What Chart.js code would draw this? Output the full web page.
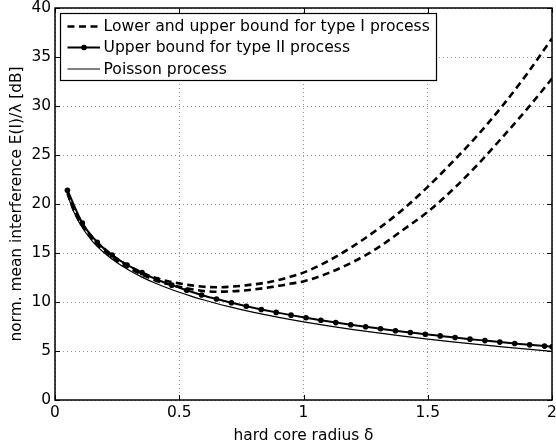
<!DOCTYPE html>
<html>
<head>
<meta charset="utf-8">
<script src="https://cdn.jsdelivr.net/npm/chart.js@4.4.1/dist/chart.umd.min.js"></script>
<style>
  html, body { margin: 0; padding: 0; background: #fff; }
  #wrap { width: 556px; height: 447px; }
</style>
</head>
<body>
<div id="wrap"><canvas id="chart" width="556" height="447"></canvas></div>
<script>
// x positions of the smooth curves (hard core radius)
const curveDelta = [0.05, 0.075, 0.1, 0.15, 0.2, 0.25, 0.3, 0.35, 0.4, 0.45, 0.5, 0.55, 0.6, 0.65, 0.7,
  0.75, 0.8, 0.85, 0.9, 0.95, 1.0, 1.1, 1.2, 1.3, 1.4, 1.5, 1.6, 1.7, 1.8, 1.9, 2.0];
const typeIUpper = [21.3, 19.6, 18.4, 16.6, 15.4, 14.4, 13.65, 13.0, 12.5, 12.15, 11.9, 11.7, 11.55, 11.5, 11.55,
  11.65, 11.8, 11.98, 12.25, 12.6, 13.0, 14.2, 15.7, 17.45, 19.45, 21.75, 24.3, 27.0, 30.0, 33.3, 36.9];
const typeILower = [21.1, 19.4, 18.2, 16.4, 15.2, 14.2, 13.45, 12.8, 12.25, 11.85, 11.55, 11.3, 11.12, 11.05, 11.08,
  11.15, 11.28, 11.45, 11.65, 11.88, 12.1, 12.95, 14.1, 15.55, 17.35, 19.2, 21.45, 24.0, 26.8, 29.7, 32.8];
const poisson = [20.99, 19.23, 17.98, 16.22, 14.97, 14.0, 13.21, 12.54, 11.96, 11.45, 10.99, 10.58, 10.2, 9.85, 9.53,
  9.23, 8.95, 8.69, 8.44, 8.2, 7.98, 7.57, 7.19, 6.84, 6.52, 6.22, 5.94, 5.68, 5.43, 5.19, 4.97];

// marker positions of the type II curve
const markerDelta = [0.05, 0.11, 0.17, 0.23, 0.29, 0.35, 0.41, 0.47, 0.53, 0.59, 0.65, 0.71, 0.77, 0.83, 0.89,
  0.95, 1.01, 1.07, 1.13, 1.19, 1.25, 1.31, 1.37, 1.43, 1.49, 1.55, 1.61, 1.67, 1.73, 1.79, 1.85, 1.91, 1.97, 2.0];
const typeIIUpper = [21.4, 18.05, 16.1, 14.8, 13.78, 13.0, 12.3, 11.72, 11.2, 10.72, 10.3, 9.92, 9.57, 9.24, 8.94,
  8.66, 8.39, 8.14, 7.9, 7.68, 7.47, 7.27, 7.07, 6.89, 6.71, 6.54, 6.37, 6.21, 6.06, 5.91, 5.77, 5.63, 5.5, 5.44];

const xTicks = [0, 0.5, 1, 1.5, 2];
const yTicks = [0, 5, 10, 15, 20, 25, 30, 35, 40];

const legendLabels = [
  'Lower and upper bound for type I process',
  'Upper bound for type II process',
  'Poisson process'
];

const FONT = 'DejaVu Sans';

function pts(xs, ys) {
  return xs.map((x, i) => ({ x: x, y: ys[i] }));
}

// box, inward ticks and legend, drawn the MATLAB way
const matlabFrame = {
  id: 'matlabFrame',
  afterDraw(chart) {
    const ctx = chart.ctx;
    const a = chart.chartArea;
    const xs = chart.scales.x, ys = chart.scales.y;
    ctx.save();
    ctx.strokeStyle = '#000';
    ctx.lineWidth = 1;
    ctx.beginPath();
    xTicks.forEach(v => {
      const px = Math.round(xs.getPixelForValue(v)) + 0.5;
      ctx.moveTo(px, a.bottom); ctx.lineTo(px, a.bottom - 5);
      ctx.moveTo(px, a.top); ctx.lineTo(px, a.top + 5);
    });
    yTicks.forEach(v => {
      const py = Math.round(ys.getPixelForValue(v)) + 0.5;
      ctx.moveTo(a.left, py); ctx.lineTo(a.left + 5, py);
      ctx.moveTo(a.right, py); ctx.lineTo(a.right - 5, py);
    });
    ctx.stroke();
    ctx.lineWidth = 1.5;
    ctx.strokeRect(a.left, a.top, a.right - a.left, a.bottom - a.top);

    // legend box
    const lx = 60.5, ly = 13.5, lw = 376, lh = 67;
    ctx.fillStyle = '#fff';
    ctx.fillRect(lx, ly, lw, lh);
    ctx.lineWidth = 1.2;
    ctx.strokeRect(lx, ly, lw, lh);
    const rows = [26.5, 47.5, 69];
    const ds = chart.data.datasets;
    const styles = [ds[0], ds[2], ds[3]];
    rows.forEach((ry, i) => {
      const s = styles[i];
      ctx.beginPath();
      ctx.lineWidth = s.borderWidth;
      ctx.setLineDash(s.borderDash || []);
      ctx.moveTo(67.5, ry); ctx.lineTo(100, ry);
      ctx.stroke();
      ctx.setLineDash([]);
      if (s.pointRadius > 0) {
        ctx.beginPath();
        ctx.fillStyle = '#000';
        ctx.arc(84, ry, s.pointRadius, 0, Math.PI * 2);
        ctx.fill();
      }
      ctx.fillStyle = '#000';
      ctx.font = '15.6px "' + FONT + '"';
      ctx.textBaseline = 'middle';
      ctx.textAlign = 'left';
      ctx.fillText(legendLabels[i], 103.5, ry + 0.5);
    });
    ctx.restore();
  }
};

document.addEventListener('DOMContentLoaded', function() {
  const ctx = document.getElementById('chart').getContext('2d');

  new Chart(ctx, {
    type: 'line',
    data: {
      datasets: [
        {
          label: legendLabels[0],
          data: pts(curveDelta, typeIUpper),
          borderColor: '#000',
          borderWidth: 2.6,
          borderDash: [7, 4.5],
          pointRadius: 0,
          cubicInterpolationMode: 'monotone',
          fill: false
        },
        {
          label: legendLabels[0] + ' (lower)',
          data: pts(curveDelta, typeILower),
          borderColor: '#000',
          borderWidth: 2.6,
          borderDash: [7, 4.5],
          pointRadius: 0,
          cubicInterpolationMode: 'monotone',
          fill: false
        },
        {
          label: legendLabels[1],
          data: pts(markerDelta, typeIIUpper),
          borderColor: '#000',
          backgroundColor: '#000',
          borderWidth: 2,
          pointRadius: 2.8,
          pointBackgroundColor: '#000',
          pointBorderWidth: 0,
          cubicInterpolationMode: 'monotone',
          fill: false
        },
        {
          label: legendLabels[2],
          data: pts(curveDelta, poisson),
          borderColor: '#000',
          borderWidth: 1.2,
          pointRadius: 0,
          cubicInterpolationMode: 'monotone',
          fill: false
        }
      ]
    },
    options: {
      responsive: false,
      animation: false,
      devicePixelRatio: 1,
      layout: { padding: { top: 8, right: 4, left: 0, bottom: 0 } },
      scales: {
        x: {
          type: 'linear',
          min: 0,
          max: 2,
          afterFit: scale => {
            scale.height = 47;
            scale.paddingLeft = 0;
            scale.paddingRight = 0;
          },
          afterBuildTicks: scale => { scale.ticks = xTicks.map(v => ({ value: v })); },
          grid: { color: 'rgba(0,0,0,0.4)', lineWidth: 1, drawTicks: false },
          border: { display: false, dash: [1, 3] },
          ticks: {
            color: '#000', padding: 4, maxRotation: 0,
            font: { family: FONT, size: 15.4 },
            callback: v => String(v)
          },
          title: {
            display: true,
            text: 'hard core radius δ',
            color: '#000',
            padding: { top: 0, bottom: 2 },
            font: { family: FONT, size: 15.4 }
          }
        },
        y: {
          type: 'linear',
          min: 0,
          max: 40,
          afterFit: scale => {
            scale.width = 55;
            scale.paddingTop = 0;
            scale.paddingBottom = 0;
          },
          afterBuildTicks: scale => { scale.ticks = yTicks.map(v => ({ value: v })); },
          grid: { color: 'rgba(0,0,0,0.4)', lineWidth: 1, drawTicks: false },
          border: { display: false, dash: [1, 3] },
          ticks: {
            color: '#000', padding: 4,
            font: { family: FONT, size: 15.4 },
            callback: v => String(v)
          },
          title: {
            display: true,
            text: 'norm. mean interference E(I)/λ [dB]',
            color: '#000',
            padding: { top: 8, bottom: 0 },
            font: { family: FONT, size: 15.4 }
          }
        }
      },
      plugins: {
        legend: { display: false },
        tooltip: { enabled: false }
      }
    },
    plugins: [matlabFrame]
  });
});
</script>
</body>
</html>
